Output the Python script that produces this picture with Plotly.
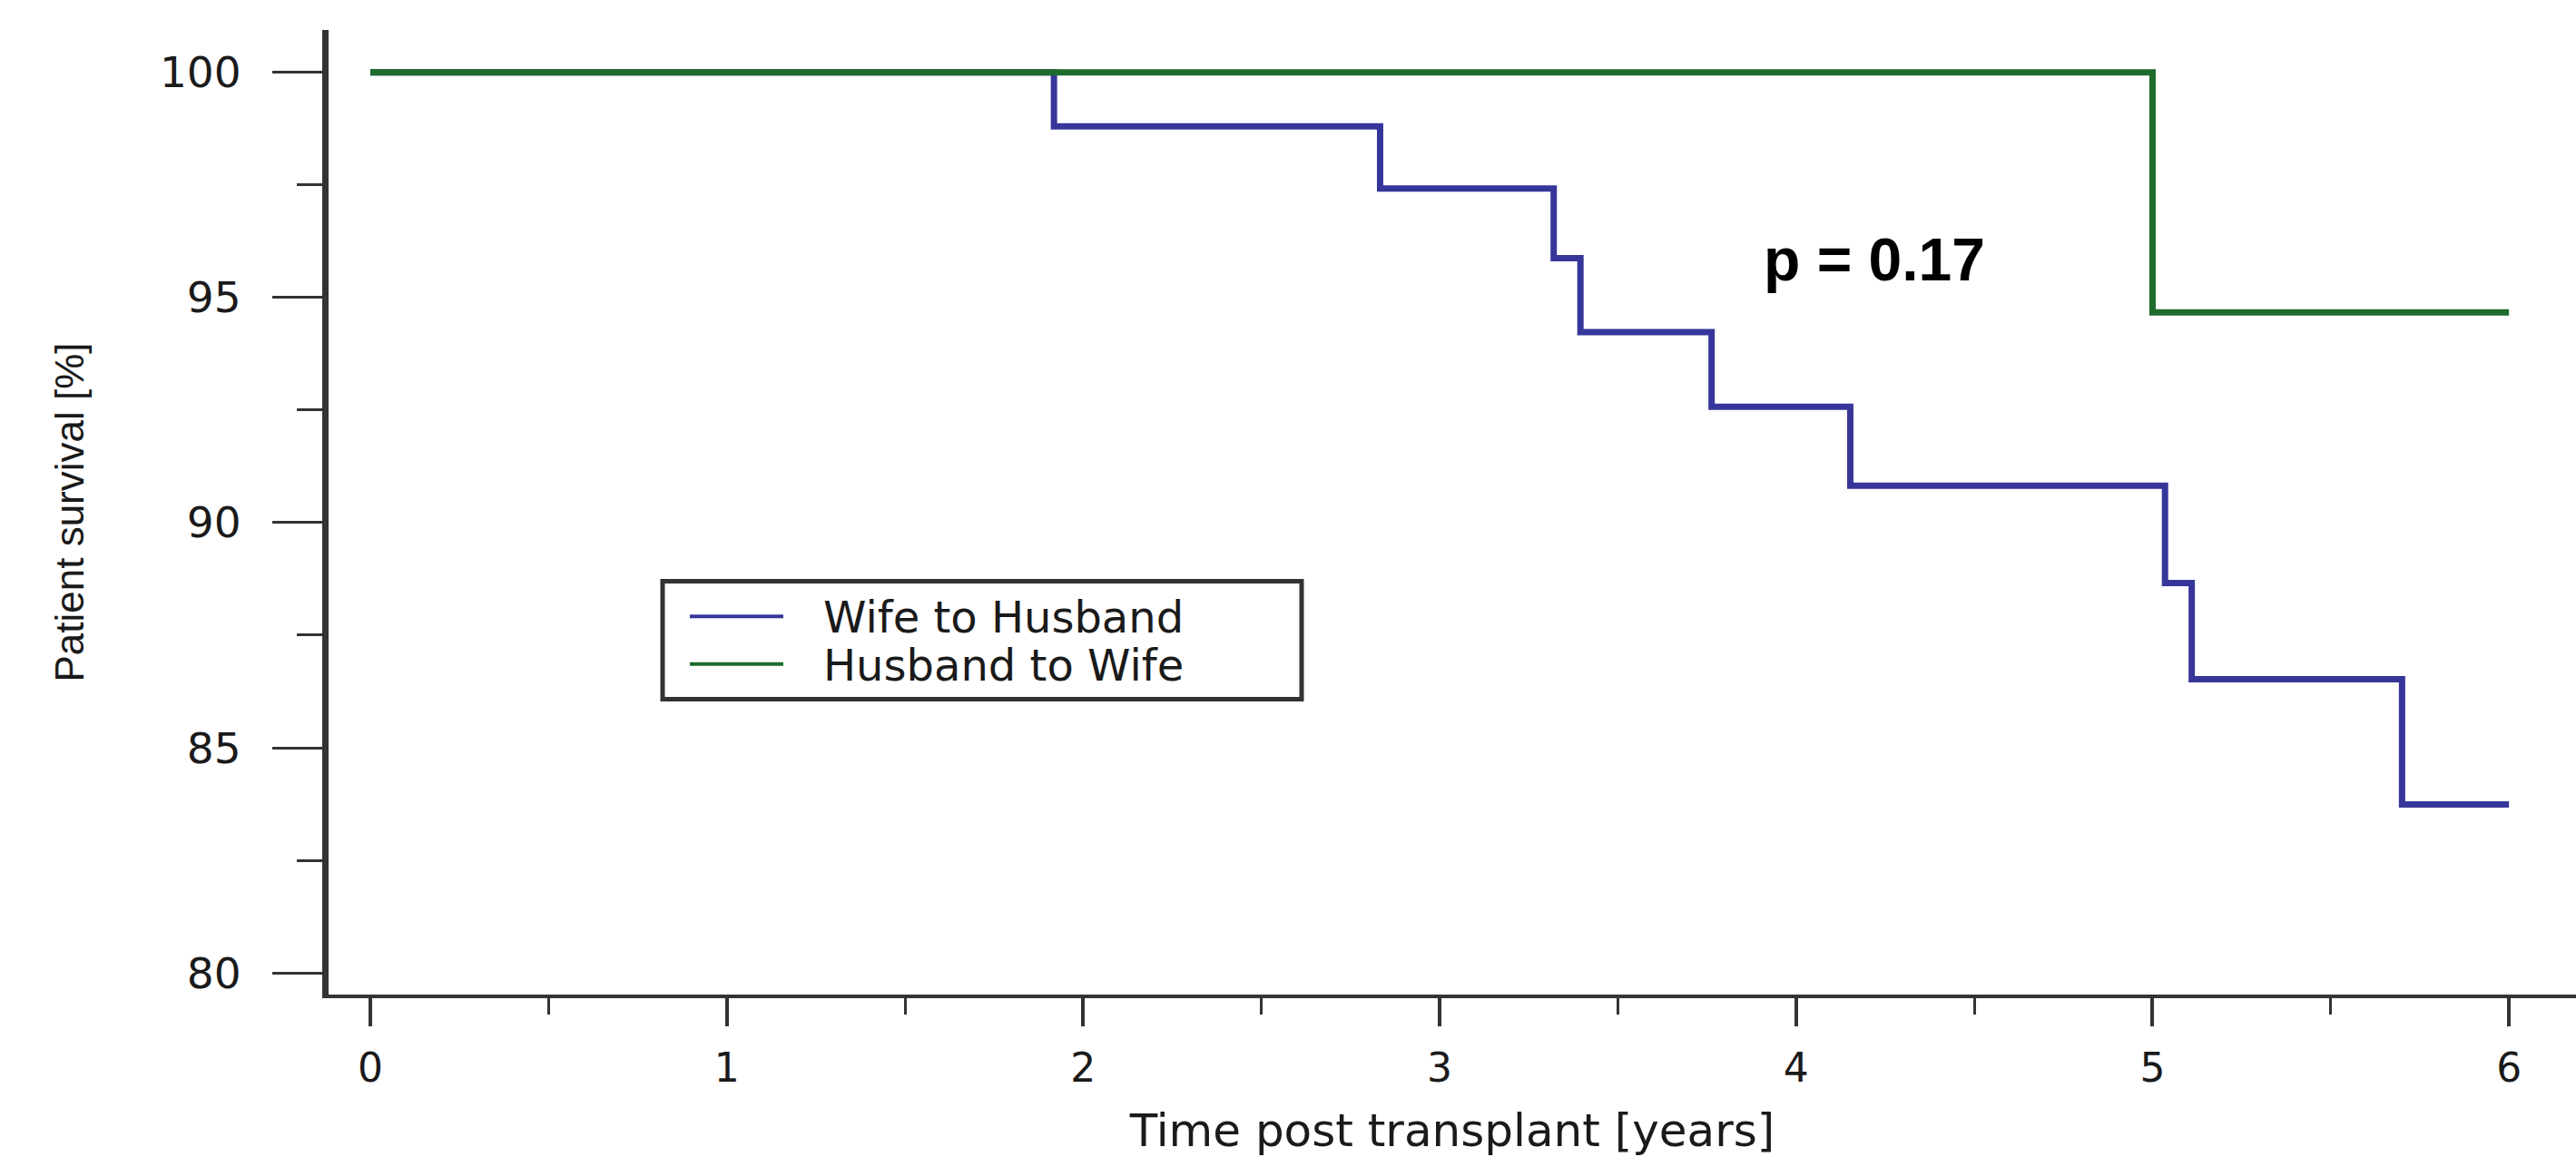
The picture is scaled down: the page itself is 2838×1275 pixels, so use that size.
import plotly.graph_objects as go

# ---------------- data ----------------
wh_time = [0, 1.918, 2.833, 3.32, 3.395, 3.763, 4.152, 5.035, 5.11, 5.70, 6.0]
wh_surv = [100, 98.8, 97.42, 95.87, 94.23, 92.57, 90.82, 88.66, 86.52, 83.74, 83.74]
hw_time = [0, 5.0, 6.0]
hw_surv = [100, 94.67, 94.67]
series_names = ["Wife to Husband", "Husband to Wife"]
x_ticks = [0, 1, 2, 3, 4, 5, 6]
y_ticks = [80, 85, 90, 95, 100]
p_text = "p = 0.17"

# ---------------- layout geometry ----------------
W, H = 2838, 1275
L, R, T, B = 362, 0, 33, 171
PW, PH = W - L - R, H - T - B

def px_x(px):
    return (px - L) / PW

def px_y(py):
    return (H - B - py) / PH

BLUE = "#36369a"
GREEN = "#1d6b2d"
AX = "#333333"
TXT = "#1a1a1a"

fig = go.Figure()
fig.add_trace(go.Scatter(x=wh_time, y=wh_surv, mode="lines", line_shape="hv",
                         line=dict(color=BLUE, width=7), name=series_names[0],
                         showlegend=False))
fig.add_trace(go.Scatter(x=hw_time, y=hw_surv, mode="lines", line_shape="hv",
                         line=dict(color=GREEN, width=7), name=series_names[1],
                         showlegend=False))

fig.update_layout(
    width=W, height=H,
    margin=dict(l=L, r=R, t=T, b=B, pad=0),
    plot_bgcolor="white", paper_bgcolor="white",
    showlegend=False,
)

fig.update_xaxes(
    range=[-0.117, 6.188],
    tickmode="array", tickvals=x_ticks, ticktext=[str(v) for v in x_ticks],
    ticks="outside", ticklen=31, tickwidth=4, tickcolor=AX,
    showline=True, linewidth=4, linecolor=AX,
    showgrid=False, zeroline=False,
    minor=dict(tickmode="linear", tick0=0.5, dtick=1, ticks="outside", ticklen=18,
               tickwidth=3, tickcolor=AX, showgrid=False),
    tickfont=dict(family="DejaVu Sans", size=44, color=TXT),
    ticklabelstandoff=8,
    title=dict(text="Time post transplant [years]",
               font=dict(family="DejaVu Sans", size=50, color=TXT), standoff=38),
)

fig.update_yaxes(
    range=[79.52, 100.94],
    tickmode="array", tickvals=y_ticks, ticktext=[str(v) for v in y_ticks],
    ticks="outside", ticklen=55, tickwidth=3, tickcolor=AX,
    showline=True, linewidth=7, linecolor=AX,
    showgrid=False, zeroline=False,
    minor=dict(tickmode="linear", tick0=82.5, dtick=5, ticks="outside", ticklen=28,
               tickwidth=3, tickcolor=AX, showgrid=False),
    tickfont=dict(family="DejaVu Sans", size=47, color=TXT),
    ticklabelstandoff=25,
    title=dict(text="Patient survival [%]",
               font=dict(family="Liberation Sans", size=44, color=TXT), standoff=72),
)

# p-value annotation
fig.add_annotation(x=4.22, y=95.84, xref="x", yref="y", text="<b>" + p_text + "</b>",
                   showarrow=False, xanchor="center", yanchor="middle",
                   font=dict(family="Liberation Sans", size=66, color="#000"))

# manual legend box
fig.add_shape(type="rect", xref="paper", yref="paper",
              x0=px_x(730), x1=px_x(1434), y0=px_y(776), y1=px_y(645),
              line=dict(color=AX, width=5), fillcolor="white", layer="above")
legend_rows = [(684, BLUE, series_names[0]), (737, GREEN, series_names[1])]
for py, col, name in legend_rows:
    fig.add_shape(type="line", xref="paper", yref="paper",
                  x0=px_x(760), x1=px_x(863), y0=px_y(py), y1=px_y(py),
                  line=dict(color=col, width=4), layer="above")
    fig.add_annotation(x=px_x(905), y=px_y(py + 1), xref="paper", yref="paper",
                       text=name, showarrow=False, xanchor="left", yanchor="middle",
                       font=dict(family="DejaVu Sans", size=48, color=TXT))

fig.write_html("out.html")
